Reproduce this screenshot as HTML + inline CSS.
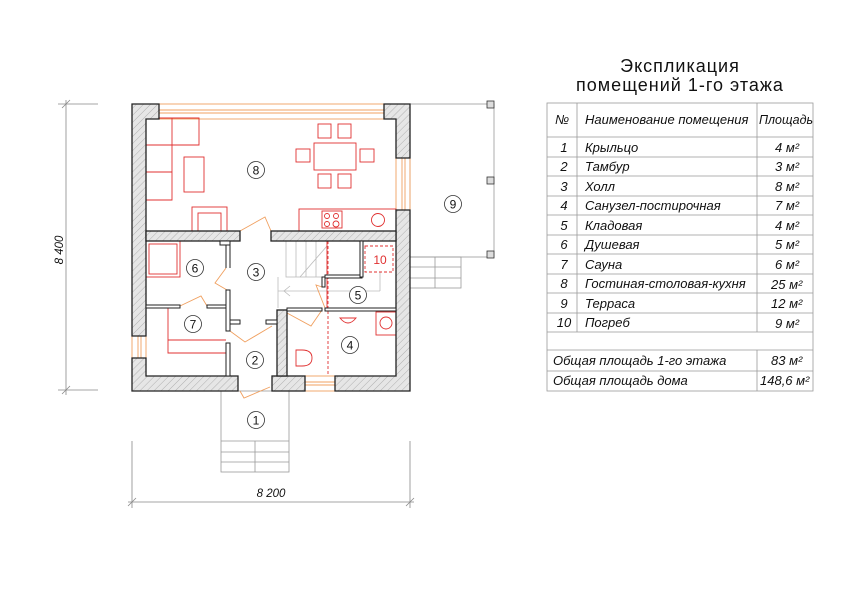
<!DOCTYPE html>
<html><head><meta charset="utf-8"><style>
html,body{margin:0;padding:0;background:#fff}
svg{display:block}
text{font-family:"Liberation Sans",sans-serif}
.it{font-style:italic;font-size:13px;fill:#111}
</style></head><body>
<svg width="862" height="610" viewBox="0 0 862 610" xmlns="http://www.w3.org/2000/svg">
<defs>
<pattern id="h" width="5" height="5" patternUnits="userSpaceOnUse" patternTransform="rotate(45)">
<rect width="5" height="5" fill="#e6e6e6"/><line x1="0" y1="0" x2="0" y2="5" stroke="#999" stroke-width="0.7"/>
</pattern>
</defs>
<rect width="862" height="610" fill="#fff"/>

<g stroke="#888" stroke-width="0.8" fill="none">
<line x1="66" y1="100" x2="66" y2="395"/>
<line x1="58" y1="104" x2="98" y2="104"/>
<line x1="58" y1="390" x2="98" y2="390"/>
<line x1="62" y1="108" x2="70" y2="100"/><line x1="62" y1="394" x2="70" y2="386"/>
<line x1="128" y1="502" x2="414" y2="502"/>
<line x1="132" y1="441" x2="132" y2="508"/>
<line x1="410" y1="441" x2="410" y2="508"/>
<line x1="128" y1="506" x2="136" y2="498"/><line x1="406" y1="506" x2="414" y2="498"/>
</g>
<text x="0" y="0" transform="translate(63,250) rotate(-90)" text-anchor="middle" class="it" style="font-size:11.5px">8 400</text>
<text x="271" y="497" text-anchor="middle" class="it" style="font-size:11.5px">8 200</text>

<g stroke="#999" stroke-width="0.8" fill="none">
<rect x="410" y="104" width="84" height="153"/>
<rect x="410" y="257" width="51" height="31"/>
<line x1="410" y1="267" x2="461" y2="267"/><line x1="410" y1="278" x2="461" y2="278"/>
<line x1="435" y1="257" x2="435" y2="288"/>
<rect x="221" y="391" width="68" height="81"/>
<line x1="221" y1="441" x2="289" y2="441"/><line x1="221" y1="452" x2="289" y2="452"/><line x1="221" y1="462" x2="289" y2="462"/>
<line x1="255" y1="441" x2="255" y2="472"/>
</g>
<g fill="#ddd" stroke="#333" stroke-width="0.8">
<rect x="487" y="101" width="7" height="7"/><rect x="487" y="177" width="7" height="7"/><rect x="487" y="251" width="7" height="7"/>
</g>

<g stroke="#bbb" stroke-width="0.8" fill="none">
<rect x="286" y="241" width="41" height="36"/>
<line x1="296" y1="241" x2="296" y2="277"/><line x1="306" y1="241" x2="306" y2="277"/><line x1="316" y1="241" x2="316" y2="277"/>
<polyline points="327,246 300,277"/>
<line x1="278" y1="277" x2="278" y2="308"/>
<line x1="278" y1="291" x2="380" y2="291"/>
<polyline points="290,286 284,291 290,296"/>
<line x1="380" y1="272" x2="380" y2="291"/>
</g>

<g stroke="#f0a060" stroke-width="0.9" fill="none">
<rect x="159" y="104" width="225" height="15"/><line x1="159" y1="110" x2="384" y2="110"/><line x1="159" y1="113" x2="384" y2="113"/>
<rect x="396" y="158" width="14" height="52"/><line x1="402" y1="158" x2="402" y2="210"/><line x1="405" y1="158" x2="405" y2="210"/>
<rect x="132" y="336" width="14" height="22"/><line x1="138" y1="336" x2="138" y2="358"/><line x1="141" y1="336" x2="141" y2="358"/>
<rect x="305" y="376" width="30" height="15"/><line x1="305" y1="382" x2="335" y2="382"/><line x1="305" y1="385" x2="335" y2="385"/>
<polyline points="240,231 265,217 271,231"/>
<polyline points="226,268 215,283 227,290"/>
<polyline points="180,306 201,296 207,306"/>
<polyline points="230,331 245,342 272,326"/>
<polyline points="287,313 311,326 322,310"/>
<polyline points="322,287 316,285 325,308"/>
<polyline points="240,391 244,398 270,387"/>
</g>

<g stroke="#e03030" stroke-width="0.9" fill="none">
<path d="M146,118 H199 V145 H172 V200 H146"/>
<line x1="146" y1="145" x2="172" y2="145"/><line x1="146" y1="172" x2="172" y2="172"/><line x1="172" y1="118" x2="172" y2="145"/>
<rect x="184" y="157" width="20" height="35"/>
<rect x="192" y="207" width="35" height="24"/><rect x="198" y="213" width="23" height="18"/>
<rect x="314" y="143" width="42" height="27"/>
<rect x="318" y="124" width="13" height="14"/><rect x="338" y="124" width="13" height="14"/>
<rect x="318" y="174" width="13" height="14"/><rect x="338" y="174" width="13" height="14"/>
<rect x="296" y="149" width="14" height="13"/><rect x="360" y="149" width="14" height="13"/>
<rect x="299" y="209" width="97" height="22"/>
<rect x="322" y="211" width="20" height="17"/>
<circle cx="327" cy="216" r="2.5"/><circle cx="336" cy="216" r="2.5"/><circle cx="327" cy="224" r="2.5"/><circle cx="336" cy="224" r="3"/>
<circle cx="378" cy="220" r="6.5"/>
<rect x="146" y="241" width="34" height="36"/><rect x="149" y="244" width="28" height="30"/>
<path d="M168,308 V353 H226 M168,340 H226"/>
<path d="M327,277 V241 H396"/>
<line x1="327" y1="277" x2="327" y2="308"/>
<path d="M296,350 h6 q10,0 10,8 q0,8 -10,8 h-6 z"/>
<path d="M340,318 q8,10 16,0 z"/>
<rect x="376" y="312" width="20" height="23"/><circle cx="386" cy="323" r="6"/>
</g>
<g stroke="#e03030" stroke-width="0.9" fill="none" stroke-dasharray="3,2">
<rect x="365" y="246" width="28" height="26"/>
<line x1="328" y1="241" x2="328" y2="376"/>
</g>

<g fill="url(#h)" stroke="#222" stroke-width="1.3">
<path d="M132,104 H159 V119 H146 V336 H132 Z"/>
<path d="M132,358 H146 V376 H238 V391 H132 Z"/>
<path d="M384,104 H410 V158 H396 V119 H384 Z"/>
<path d="M396,210 H410 V391 H335 V376 H396 Z"/>
<rect x="272" y="376" width="33" height="15"/>
<rect x="146" y="231" width="94" height="10"/>
<rect x="271" y="231" width="125" height="10"/>
<rect x="277" y="310" width="10" height="66"/>
</g>
<g fill="#fff" stroke="#222" stroke-width="1">
<path d="M226,241 V268 M230,241 V268" />
<rect x="226" y="290" width="4" height="41"/>
<rect x="226" y="343" width="4" height="33"/>
<rect x="146" y="305" width="34" height="3"/>
<rect x="207" y="305" width="19" height="3"/>
<rect x="287" y="308" width="35" height="3"/>
<rect x="325" y="308" width="71" height="3"/>
<rect x="325" y="275" width="37" height="3"/>
<rect x="360" y="241" width="3" height="36"/>
<rect x="322" y="277" width="3" height="10"/>
<rect x="220" y="241" width="10" height="4"/>
<rect x="230" y="320" width="10" height="4"/>
<rect x="266" y="320" width="11" height="4"/>
</g>

<g fill="#fff" stroke="#333" stroke-width="0.8">
<circle cx="256" cy="170" r="8.5"/><circle cx="256" cy="272" r="8.5"/><circle cx="195" cy="268" r="8.5"/>
<circle cx="193" cy="324" r="8.5"/><circle cx="255" cy="360" r="8.5"/><circle cx="350" cy="345" r="8.5"/>
<circle cx="358" cy="295" r="8.5"/><circle cx="453" cy="204" r="8.5"/><circle cx="256" cy="420" r="8.5"/>
</g>
<g font-size="12" text-anchor="middle" fill="#111">
<text x="256" y="174.5">8</text><text x="256" y="276.5">3</text><text x="195" y="272.5">6</text>
<text x="193" y="328.5">7</text><text x="255" y="364.5">2</text><text x="350" y="349.5">4</text>
<text x="358" y="299.5">5</text><text x="453" y="208.5">9</text><text x="256" y="424.5">1</text>
<text x="380" y="264" fill="#e03030">10</text>
</g>

<text x="680" y="72" text-anchor="middle" style="font-size:18px;letter-spacing:1px" fill="#111">Экспликация</text>
<text x="680" y="91" text-anchor="middle" style="font-size:18px;letter-spacing:1px" fill="#111">помещений 1-го этажа</text>

<g stroke="#999" stroke-width="0.8" fill="none">
<rect x="547" y="103" width="266" height="288"/>
<line x1="577" y1="103" x2="577" y2="332"/>
<line x1="757" y1="103" x2="757" y2="332"/>
<line x1="757" y1="350" x2="757" y2="391"/>
<line x1="547" y1="137" x2="813" y2="137"/>
<line x1="547" y1="157" x2="813" y2="157"/><line x1="547" y1="176" x2="813" y2="176"/>
<line x1="547" y1="196" x2="813" y2="196"/><line x1="547" y1="215" x2="813" y2="215"/>
<line x1="547" y1="235" x2="813" y2="235"/><line x1="547" y1="254" x2="813" y2="254"/>
<line x1="547" y1="274" x2="813" y2="274"/><line x1="547" y1="293" x2="813" y2="293"/>
<line x1="547" y1="313" x2="813" y2="313"/><line x1="547" y1="332" x2="813" y2="332"/>
<line x1="547" y1="350" x2="813" y2="350"/><line x1="547" y1="371" x2="813" y2="371"/>
</g>
<g class="it">
<text x="562" y="124" text-anchor="middle">№</text>
<text x="585" y="124">Наименование помещения</text>
<text x="759" y="124" textLength="54" lengthAdjust="spacingAndGlyphs">Площадь</text>
</g>
<g class="it">
<text x="564" y="152" text-anchor="middle">1</text><text x="585" y="152">Крыльцо</text><text x="775" y="152">4 м²</text>
<text x="564" y="171" text-anchor="middle">2</text><text x="585" y="171">Тамбур</text><text x="775" y="171">3 м²</text>
<text x="564" y="191" text-anchor="middle">3</text><text x="585" y="191">Холл</text><text x="775" y="191">8 м²</text>
<text x="564" y="210" text-anchor="middle">4</text><text x="585" y="210">Санузел-постирочная</text><text x="775" y="210">7 м²</text>
<text x="564" y="230" text-anchor="middle">5</text><text x="585" y="230">Кладовая</text><text x="775" y="230">4 м²</text>
<text x="564" y="249" text-anchor="middle">6</text><text x="585" y="249">Душевая</text><text x="775" y="249">5 м²</text>
<text x="564" y="269" text-anchor="middle">7</text><text x="585" y="269">Сауна</text><text x="775" y="269">6 м²</text>
<text x="564" y="288" text-anchor="middle">8</text><text x="585" y="288">Гостиная-столовая-кухня</text><text x="771" y="289">25 м²</text>
<text x="564" y="308" text-anchor="middle">9</text><text x="585" y="308">Терраса</text><text x="771" y="308">12 м²</text>
<text x="564" y="327" text-anchor="middle">10</text><text x="585" y="327">Погреб</text><text x="775" y="328">9 м²</text>
<text x="553" y="365">Общая площадь 1-го этажа</text><text x="771" y="365">83 м²</text>
<text x="553" y="385">Общая площадь дома</text><text x="760" y="385">148,6 м²</text>
</g>
</svg>
</body></html>
